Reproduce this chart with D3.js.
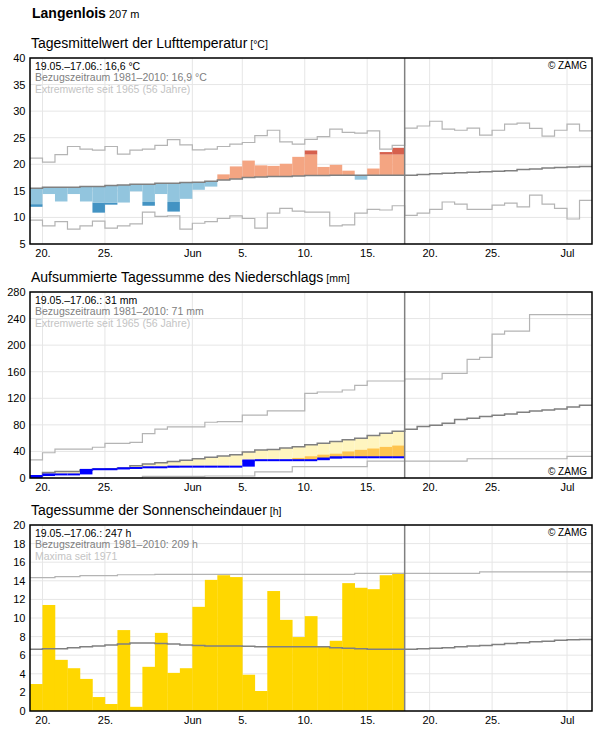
<!DOCTYPE html>
<html>
<head>
<meta charset="utf-8">
<script src="https://cdn.jsdelivr.net/npm/d3@7"></script>
<style>
  body { margin: 0; background: #fff; }
  svg text { font-family: Arial, "Liberation Sans", sans-serif; }
</style>
</head>
<body>
<div id="wrapper"></div>
<script>
// time axis: 19.05. - 02.07., observed days up to 17.06.
const firstDay = "2020-05-19" ;
const nDays = 45 ;
const tickDays = ["2020-05-20", "2020-05-25", "2020-06-01", "2020-06-05", "2020-06-10", "2020-06-15", "2020-06-20", "2020-06-25", "2020-07-01"] ;
const tickLabels = ["20.", "25.", "Jun", "5.", "10.", "15.", "20.", "25.", "Jul"] ;

// air temperature, daily mean [°C]
const tempMean = [12.0, 14.4, 13.0, 14.4, 13.0, 10.9, 12.4, 12.8, 14.9, 12.2, 14.4, 11.1, 13.5, 15.2, 15.8,
  18.1, 19.6, 20.7, 19.8, 19.7, 20.1, 21.4, 22.6, 19.5, 19.9, 18.8, 17.1, 19.2, 22.3, 23.1] ;
const tempLimit = [12.5, null, null, null, null, 12.8, 12.8, null, null, 12.9, null, 12.9, null, null, null,
  null, null, null, null, null, null, null, 21.8, null, null, null, null, null, 21.8, 21.8] ;
const tempNormal = [15.5, 15.7, 15.7, 15.7, 15.8, 15.8, 16.0, 16.1, 16.25, 16.25, 16.45, 16.45, 16.55, 16.6, 16.8,
  17.05, 17.25, 17.5, 17.6, 17.7, 17.7, 17.8, 17.9, 17.9, 17.95, 17.95, 17.95, 17.95, 17.95, 17.95,
  17.95, 18.1, 18.2, 18.3, 18.4, 18.5, 18.6, 18.7, 18.8, 19.0, 19.1, 19.3, 19.4, 19.5, 19.6] ;
const tempMax = [21.15, 20.4, 21.8, 23.35, 22.85, 22.65, 23.35, 21.9, 22.65, 22.85, 23.55, 24.65, 23.65, 22.7, 22.85,
  23.35, 23.8, 24.1, 25.4, 26.4, 24.2, 23.8, 24.7, 25.2, 26.6, 26.0, 25.85, 26.3, 22.85, 23.55,
  26.8, 27.2, 28.1, 26.6, 26.4, 26.8, 25.5, 26.4, 27.55, 27.75, 26.75, 25.3, 26.4, 27.55, 26.3] ;
const tempMin = [9.5, 8.4, 9.2, 7.8, 8.4, 9.3, 8.0, 8.4, 8.8, 11.0, 10.2, 10.3, 7.8, 8.9, 9.2,
  9.8, 10.3, 9.8, 8.0, 10.8, 11.7, 11.2, 11.0, 11.0, 8.4, 8.6, 10.8, 11.5, 11.4, 12.2,
  10.4, 10.8, 11.5, 12.9, 12.5, 11.5, 11.5, 12.3, 12.7, 12.0, 14.2, 12.5, 11.7, 9.7, 13.2] ;

// precipitation, accumulated [mm]
const precipSum = [3, 5.4, 5.4, 5.4, 12.2, 13.2, 13.2, 14.6, 15.1, 16.1, 16.1, 17.1, 17.1, 17.1, 17.1,
  17.1, 17.1, 26.3, 26.8, 26.8, 26.8, 26.8, 26.8, 29.3, 31.2, 31.2, 31.2, 31.2, 31.2, 31.2] ;
const precipLimit = [null, null, null, null, null, null, null, null, null, null, null, null, null, null, null,
  null, null, null, null, null, null, 30.2, 32.7, 35.1, 36.6, 40.0, 42.4, 44.4, 46.8, 48.8] ;
const precipNormal = [3, 8.3, 9.8, 9.8, 12.2, 13.5, 13.9, 15.1, 18.5, 21.0, 22.9, 24.9, 26.8, 28.8, 31.2,
  33.0, 35.1, 39.0, 42.0, 43.0, 45.0, 47.0, 50.0, 52.5, 55.0, 57.5, 60.0, 64.0, 67.5, 70.5,
  73.5, 77.5, 79.5, 82.5, 88.0, 90.0, 92.5, 94.5, 96.5, 99.0, 101.0, 102.5, 104.0, 107.0, 109.5] ;
const precipMax = [27.3, 38, 43.4, 43.4, 43.4, 46.3, 52.2, 52.2, 53.7, 66.8, 73.7, 77, 77, 77, 83.9,
  84.9, 84.9, 94.6, 94.6, 101, 101, 101, 127.5, 129.5, 129.5, 132.5, 139.5, 146, 146, 146,
  149, 149, 149, 157.5, 157.5, 178.5, 181.5, 216.5, 221, 221, 246, 246, 246, 246, 246] ;
const precipMin = [0, 0, 0, 0, 0, 0, 0, 0, 0, 2.4, 2.4, 2.4, 2.4, 2.4, 3,
  3, 3, 3, 9.3, 9.3, 9.3, 17.1, 17.1, 17.1, 17.1, 17.1, 17.1, 25.5, 25.5, 25.5,
  25.5, 25.5, 25.5, 25.5, 25.5, 29, 29, 29, 29, 29, 29, 29, 29, 32.5, 32.5] ;

// sunshine duration, daily sum [h]
const sunHours = [2.9, 11.4, 5.5, 4.6, 3.45, 1.5, 0.75, 8.7, 0.45, 4.75, 8.4, 4.1, 4.6, 11.2, 14.1,
  14.6, 14.4, 3.9, 2.15, 12.9, 9.8, 7.95, 10.2, 6.9, 7.55, 13.75, 13.25, 13.1, 14.6, 14.85] ;
const sunNormal = [6.65, 6.7, 6.7, 6.8, 6.9, 7.0, 7.1, 7.2, 7.3, 7.3, 7.25, 7.2, 7.1, 7.05, 7.0,
  7.0, 7.0, 6.95, 6.9, 6.9, 6.9, 6.9, 6.9, 6.9, 6.8, 6.75, 6.7, 6.65, 6.65, 6.63,
  6.63, 6.7, 6.75, 6.8, 6.9, 7.0, 7.05, 7.15, 7.25, 7.35, 7.45, 7.5, 7.6, 7.65, 7.7] ;
const sunMax = [14.35, 14.35, 14.45, 14.45, 14.55, 14.55, 14.55, 14.65, 14.65, 14.65, 14.7, 14.7, 14.7, 14.7, 14.7,
  14.7, 14.7, 14.7, 14.7, 14.7, 14.7, 14.7, 14.7, 14.7, 14.7, 14.7, 14.8, 14.8, 14.8, 14.8,
  14.8, 14.8, 14.8, 14.8, 14.8, 14.8, 14.95, 14.95, 14.95, 14.95, 14.95, 14.95, 14.95, 14.95, 14.95] ;

function drawCharts() {
  const dimensions = {
    width: 596,
    height: 729,
    left: 30,
    right: 592,
    plotHeight: 186,
  }

  const day = (i) => d3.utcDay.offset(new Date(firstDay + "T00:00:00Z"), i) ;

  const wrapper = d3.select("#wrapper")
    .append("svg")
      .attr("width", dimensions.width)
      .attr("height", dimensions.height)
  ;

  const xScale = d3.scaleUtc()
    .domain([day(0), day(nDays)])
    .range([dimensions.left, dimensions.right])
  ;
  const ticks = tickDays.map((d) => new Date(d + "T00:00:00Z")) ;
  const today = day(tempMean.length) ;

  // header
  const head = wrapper.append("text").attr("x", 32).attr("y", 18) ;
  head.append("tspan").text("Langenlois").attr("font-size", 14).attr("font-weight", "bold") ;
  head.append("tspan").text(" 207 m").attr("font-size", 11) ;

  function panel(cfg) {
    const top = cfg.top ;
    const bottom = top + dimensions.plotHeight ;
    const yScale = d3.scaleLinear().domain(cfg.domain).range([bottom, top]) ;
    const g = wrapper.append("g") ;

    const title = g.append("text").attr("x", 31).attr("y", top - 10) ;
    title.append("tspan").text(cfg.title).attr("font-size", 14) ;
    title.append("tspan").text(" [" + cfg.unit + "]").attr("font-size", 10.5) ;

    // grid
    g.append("g").selectAll("line")
      .data(cfg.yTicks)
      .join("line")
        .attr("x1", dimensions.left).attr("x2", dimensions.right)
        .attr("y1", (d) => yScale(d)).attr("y2", (d) => yScale(d))
        .attr("stroke", "#e6e6e6")
    ;
    g.append("g").selectAll("line")
      .data(ticks)
      .join("line")
        .attr("x1", (d) => xScale(d)).attr("x2", (d) => xScale(d))
        .attr("y1", top).attr("y2", bottom)
        .attr("stroke", "#e6e6e6")
    ;

    cfg.marks(g, yScale) ;

    // climatology lines
    const step = d3.line()
      .x((d, i) => xScale(day(i)))
      .y((d) => yScale(d))
      .curve(d3.curveStepAfter)
    ;
    cfg.lines.forEach((l) => {
      g.append("path")
        .attr("d", step(l.values.concat([l.values[l.values.length - 1]])))
        .attr("fill", "none")
        .attr("stroke", l.color)
        .attr("stroke-width", l.width)
    }) ;
    if (cfg.after) cfg.after(g, yScale) ;

    // today
    g.append("line")
      .attr("x1", xScale(today)).attr("x2", xScale(today))
      .attr("y1", top).attr("y2", bottom)
      .attr("stroke", "#808080").attr("stroke-width", 1.5)
    ;

    g.append("rect")
      .attr("x", dimensions.left).attr("y", top)
      .attr("width", dimensions.right - dimensions.left).attr("height", dimensions.plotHeight)
      .attr("fill", "none").attr("stroke", "black").attr("stroke-width", 1.5)
    ;

    // axes
    const yAxis = g.append("g")
      .attr("transform", `translate(${dimensions.left - 0.5},0)`)
      .call(d3.axisLeft(yScale).tickValues(cfg.yTicks).tickSize(0).tickPadding(4))
    ;
    const xAxis = g.append("g")
      .attr("transform", `translate(0,${bottom})`)
      .call(d3.axisBottom(xScale).tickValues(ticks).tickFormat((d, i) => tickLabels[i]).tickSize(0).tickPadding(5))
    ;
    [yAxis, xAxis].forEach((a) => {
      a.select(".domain").remove() ;
      a.selectAll("text").attr("font-size", 11).attr("fill", "black").attr("font-family", "Arial, 'Liberation Sans', sans-serif") ;
    }) ;

    // legend
    const colors = ["black", "#808080", "#c4c4c4"] ;
    g.selectAll(".legend")
      .data(cfg.legend)
      .join("text")
        .attr("x", 35)
        .attr("y", (d, i) => top + 11.5 + i * 11.6)
        .attr("font-size", 10.5)
        .attr("fill", (d, i) => colors[i])
        .text((d) => d)
    ;
    g.append("text")
      .attr("x", 587)
      .attr("y", cfg.zamgBottom ? bottom - 3.5 : top + 11)
      .attr("text-anchor", "end")
      .attr("font-size", 10)
      .text("© ZAMG")
    ;
  }

  const dayWidth = xScale(day(1)) - xScale(day(0)) ;

  panel({
    top: 58,
    domain: [5, 40],
    yTicks: d3.range(5, 41, 5),
    title: "Tagesmittelwert der Lufttemperatur",
    unit: "°C",
    legend: ["19.05.–17.06.: 16,6 °C", "Bezugszeitraum 1981–2010: 16,9 °C", "Extremwerte seit 1965 (56 Jahre)"],
    marks: (g, y) => {
      const parts = [] ;
      tempMean.forEach((t, i) => {
        const n = tempNormal[i] ;
        const lim = tempLimit[i] ;
        const cold = t < n ;
        const light = cold ? "#92c5de" : "#f4a582" ;
        const dark = cold ? "#4393c3" : "#d6604d" ;
        let edge = t ;
        if (lim != null && (cold ? t < lim : t > lim)) {
          edge = lim ;
          parts.push({ i: i, a: lim, b: t, c: dark }) ;
        }
        parts.push({ i: i, a: n, b: edge, c: light }) ;
      }) ;
      g.append("g").selectAll("rect")
        .data(parts)
        .join("rect")
          .attr("x", (d) => xScale(day(d.i)))
          .attr("width", dayWidth)
          .attr("y", (d) => y(Math.max(d.a, d.b)))
          .attr("height", (d) => Math.abs(y(d.a) - y(d.b)))
          .attr("fill", (d) => d.c)
      ;
    },
    lines: [
      { values: tempMax, color: "#b4b4b4", width: 1.2 },
      { values: tempMin, color: "#b4b4b4", width: 1.2 },
      { values: tempNormal, color: "#808080", width: 1.5 },
    ],
  }) ;

  panel({
    top: 292,
    domain: [0, 280],
    yTicks: d3.range(0, 281, 40),
    title: "Aufsummierte Tagessumme des Niederschlags",
    unit: "mm",
    zamgBottom: true,
    legend: ["19.05.–17.06.: 31 mm", "Bezugszeitraum 1981–2010: 71 mm", "Extremwerte seit 1965 (56 Jahre)"],
    marks: (g, y) => {
      const parts = [] ;
      precipSum.forEach((s, i) => {
        const n = precipNormal[i] ;
        const lim = precipLimit[i] ;
        if (n > s) {
          parts.push({ i: i, a: s, b: n, c: "#fff5bf" }) ;
          if (lim != null && lim > s) parts.push({ i: i, a: s, b: Math.min(lim, n), c: "#fec44f" }) ;
        }
      }) ;
      g.append("g").selectAll("rect")
        .data(parts)
        .join("rect")
          .attr("x", (d) => xScale(day(d.i)))
          .attr("width", dayWidth)
          .attr("y", (d) => y(d.b))
          .attr("height", (d) => y(d.a) - y(d.b))
          .attr("fill", (d) => d.c)
      ;
    },
    lines: [
      { values: precipMax, color: "#b4b4b4", width: 1.2 },
      { values: precipMin, color: "#b4b4b4", width: 1.2 },
      { values: precipNormal, color: "#808080", width: 1.5 },
    ],
    after: (g, y) => {
      // daily increments as blocks, accumulated sum as line
      g.append("g").selectAll("rect")
        .data(precipSum)
        .join("rect")
          .attr("x", (d, i) => xScale(day(i)))
          .attr("width", dayWidth)
          .attr("y", (d) => y(d))
          .attr("height", (d, i) => y(i ? precipSum[i - 1] : 0) - y(d))
          .attr("fill", "#0000ff")
      ;
      g.append("g").selectAll("line")
        .data(precipSum)
        .join("line")
          .attr("x1", (d, i) => xScale(day(i)))
          .attr("x2", (d, i) => xScale(day(i + 1)))
          .attr("y1", (d) => y(d)).attr("y2", (d) => y(d))
          .attr("stroke", "#0000ff").attr("stroke-width", 2)
      ;
    },
  }) ;

  panel({
    top: 525,
    domain: [0, 20],
    yTicks: d3.range(0, 21, 2),
    title: "Tagessumme der Sonnenscheindauer",
    unit: "h",
    legend: ["19.05.–17.06.: 247 h", "Bezugszeitraum 1981–2010: 209 h", "Maxima seit 1971"],
    marks: (g, y) => {
      g.append("g").selectAll("rect")
        .data(sunHours)
        .join("rect")
          .attr("x", (d, i) => xScale(day(i)))
          .attr("width", dayWidth + 0.3)
          .attr("y", (d) => y(d))
          .attr("height", (d) => y(0) - y(d))
          .attr("fill", "#ffd700")
      ;
    },
    lines: [
      { values: sunMax, color: "#b4b4b4", width: 1.2 },
      { values: sunNormal, color: "#808080", width: 1.5 },
    ],
  }) ;
}

drawCharts() ;
</script>
</body>
</html>
